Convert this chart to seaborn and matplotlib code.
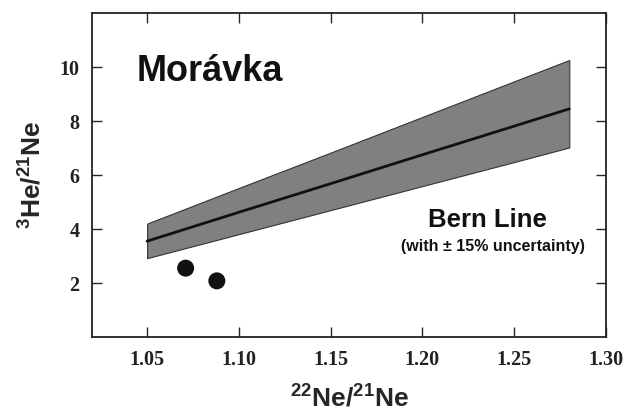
import matplotlib
matplotlib.use("Agg")
import pandas as pd
import seaborn as sns
import matplotlib.pyplot as plt

# Bern line (with +-15% band)
ne_ratio = [1.05, 1.10, 1.15, 1.20, 1.25, 1.28]
bern_mid = [3.55, 4.62, 5.68, 6.75, 7.81, 8.45]
bern_hi = [4.20, 5.52, 6.83, 8.15, 9.47, 10.26]
bern_lo = [2.92, 3.81, 4.70, 5.59, 6.48, 7.02]

# Moravka measurements
sample_ne = [1.071, 1.088]
sample_he = [2.55, 2.08]

x_ticks = [1.05, 1.10, 1.15, 1.20, 1.25, 1.30]
y_ticks = [2, 4, 6, 8, 10]

sns.set_style("ticks")
plt.rcParams["mathtext.fontset"] = "custom"
plt.rcParams["mathtext.bf"] = "Liberation Sans:bold"
plt.rcParams["mathtext.rm"] = "Liberation Sans"

bern = pd.DataFrame({"x": ne_ratio, "mid": bern_mid, "hi": bern_hi, "lo": bern_lo})
pts = pd.DataFrame({"x": sample_ne, "y": sample_he})

fig = plt.figure(figsize=(6.29, 4.13), dpi=100)
ax = fig.add_axes([0.1463, 0.184, 0.8171, 0.7845])

ax.fill_between(bern["x"], bern["lo"], bern["hi"], color="#808080",
                edgecolor="#333333", linewidth=0.8, zorder=1)
ax.vlines(bern["x"].iloc[-1], bern["lo"].iloc[-1], bern["hi"].iloc[-1],
          color="#555555", linewidth=0.8, zorder=1)
sns.lineplot(data=bern, x="x", y="mid", color="#111111", linewidth=2.0, ax=ax, zorder=2)
sns.scatterplot(data=pts, x="x", y="y", color="#111111", s=150, edgecolor="none", ax=ax, zorder=3)

ax.set_xlim(1.02, 1.30)
ax.set_ylim(0, 12)
ax.set_xticks(x_ticks)
ax.set_yticks(y_ticks)
ax.set_xticklabels(["%.2f" % v for v in x_ticks])
ax.tick_params(direction="in", length=7, width=1, top=True, right=True,
               labeltop=False, labelright=False, pad=9)
for lab in ax.get_xticklabels() + ax.get_yticklabels():
    lab.set_fontfamily("Liberation Serif")
    lab.set_fontweight("bold")
    lab.set_fontsize(14.5)
    lab.set_color("#222222")
for sp in ax.spines.values():
    sp.set_linewidth(1.3)
    sp.set_color("#222222")

ax.set_xlabel(r"$\mathbf{{}^{22}Ne/{}^{21}Ne}$", fontsize=19, labelpad=12)
ax.set_ylabel(r"$\mathbf{{}^{3}He/{}^{21}Ne}$", fontsize=19, labelpad=9)

ax.text(0.23, 0.818, "Morávka", transform=ax.transAxes, ha="center", va="center",
        fontsize=26, fontweight="bold", family="Liberation Sans", color="#111111")
ax.text(0.77, 0.36, "Bern Line", transform=ax.transAxes, ha="center", va="center",
        fontsize=18.5, fontweight="bold", family="Liberation Sans", color="#111111")
ax.text(0.78, 0.28, "(with ± 15% uncertainty)", transform=ax.transAxes, ha="center",
        va="center", fontsize=11.5, fontweight="bold", family="Liberation Sans", color="#111111")

fig.savefig("out.png", dpi=100)
